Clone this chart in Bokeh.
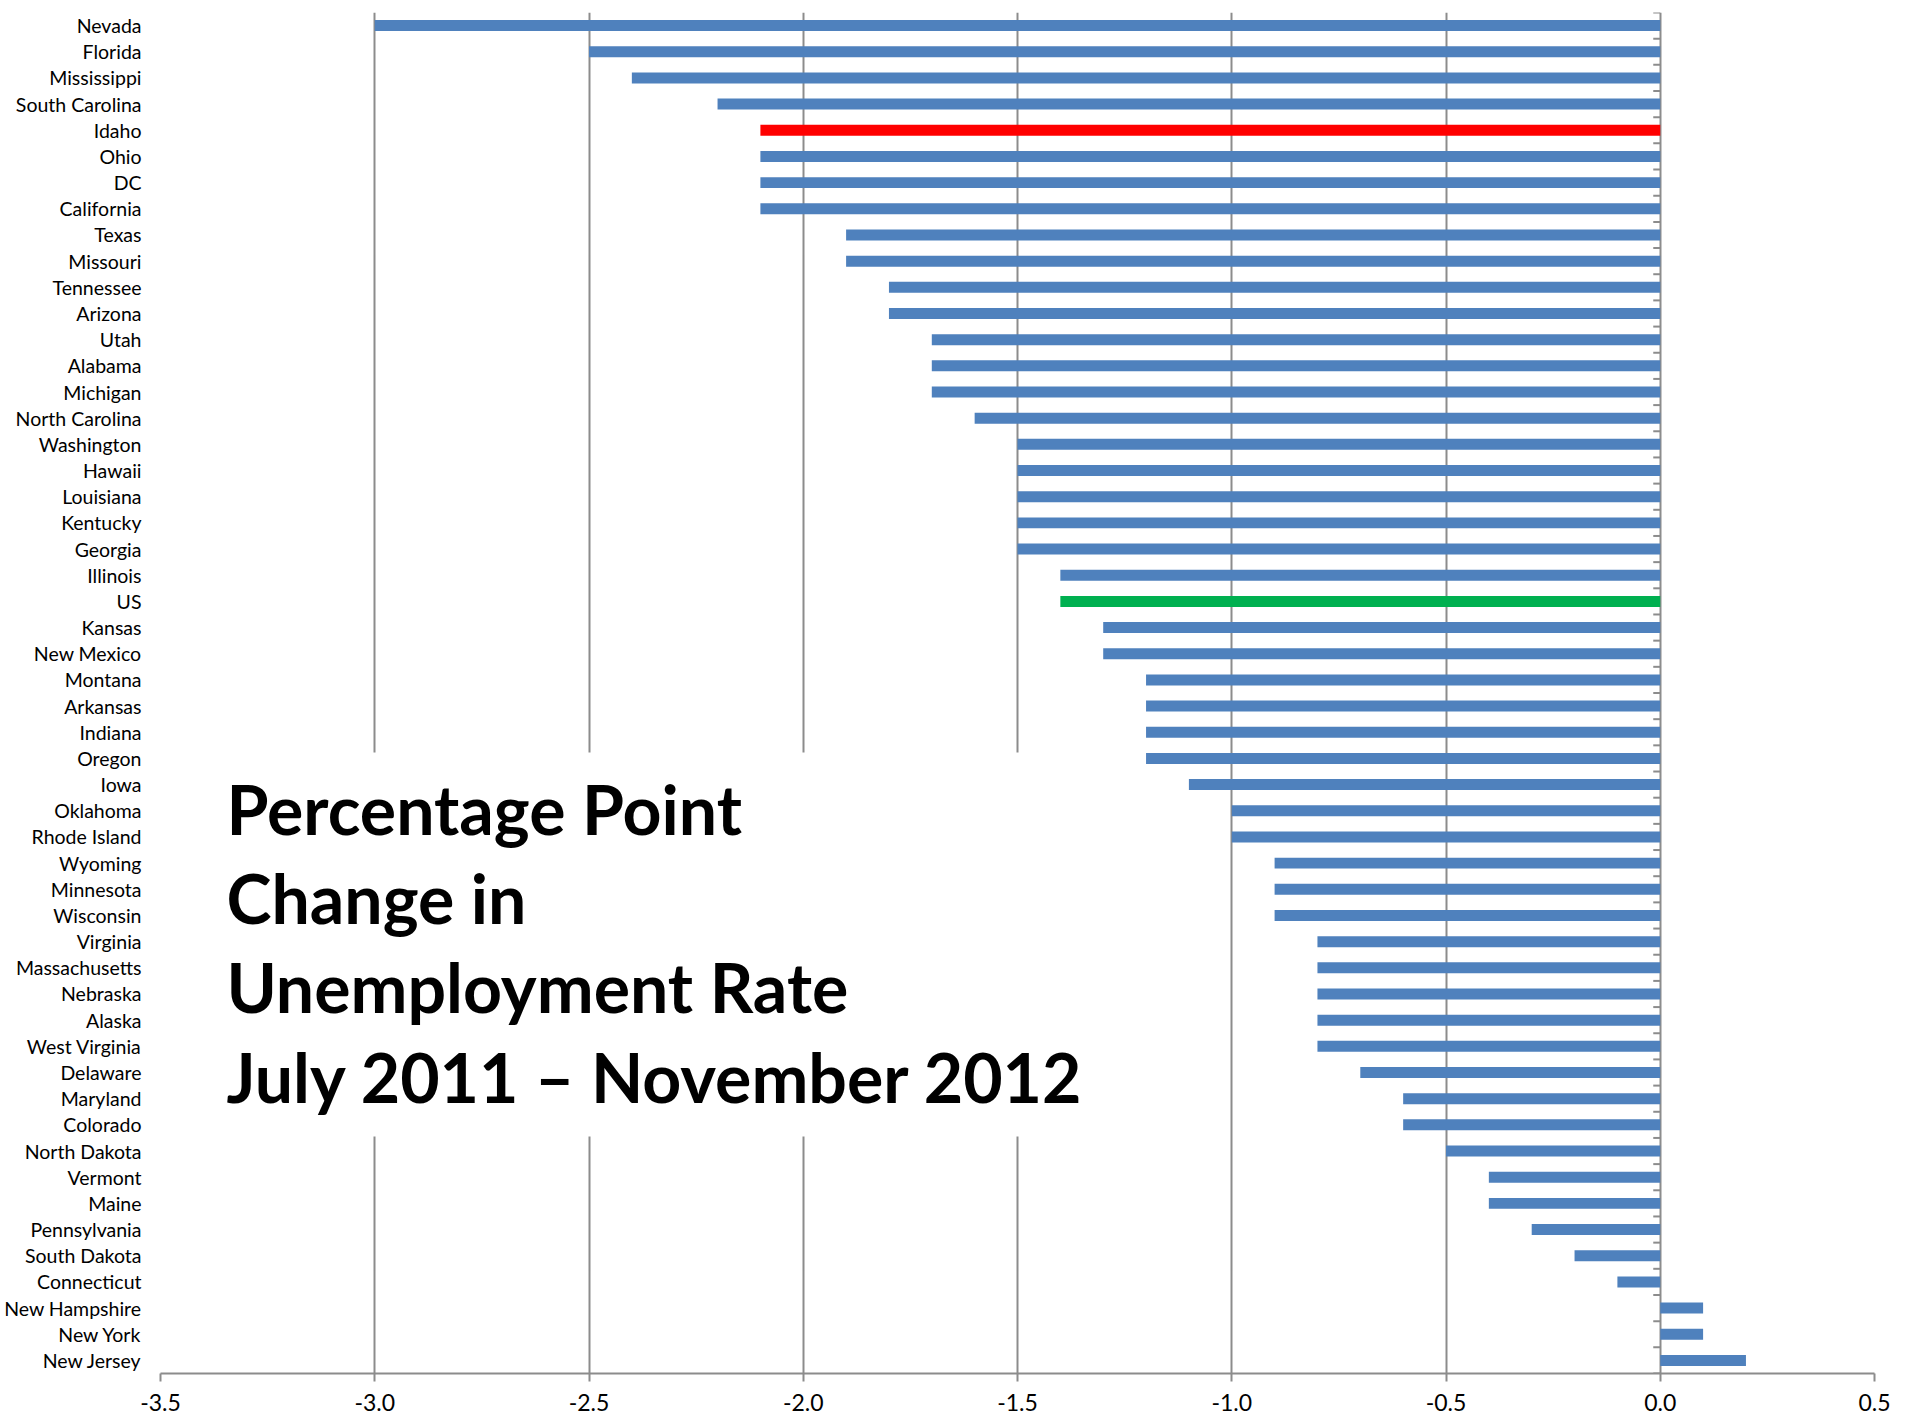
from bokeh.plotting import figure
from bokeh.models import (ColumnDataSource, Range1d, FixedTicker, NumeralTickFormatter,
                          Label, BoxAnnotation)
from bokeh.embed import file_html
from bokeh.resources import INLINE

states = ["Nevada", "Florida", "Mississippi", "South Carolina", "Idaho", "Ohio", "DC",
          "California", "Texas", "Missouri", "Tennessee", "Arizona", "Utah", "Alabama",
          "Michigan", "North Carolina", "Washington", "Hawaii", "Louisiana", "Kentucky",
          "Georgia", "Illinois", "US", "Kansas", "New Mexico", "Montana", "Arkansas",
          "Indiana", "Oregon", "Iowa", "Oklahoma", "Rhode Island", "Wyoming", "Minnesota",
          "Wisconsin", "Virginia", "Massachusetts", "Nebraska", "Alaska", "West Virginia",
          "Delaware", "Maryland", "Colorado", "North Dakota", "Vermont", "Maine",
          "Pennsylvania", "South Dakota", "Connecticut", "New Hampshire", "New York",
          "New Jersey"]
change = [-3.0, -2.5, -2.4, -2.2, -2.1, -2.1, -2.1,
          -2.1, -1.9, -1.9, -1.8, -1.8, -1.7, -1.7,
          -1.7, -1.6, -1.5, -1.5, -1.5, -1.5,
          -1.5, -1.4, -1.4, -1.3, -1.3, -1.2, -1.2,
          -1.2, -1.2, -1.1, -1.0, -1.0, -0.9, -0.9,
          -0.9, -0.8, -0.8, -0.8, -0.8, -0.8,
          -0.7, -0.6, -0.6, -0.5, -0.4, -0.4,
          -0.3, -0.2, -0.1, 0.1, 0.1,
          0.2]
x_ticks = [-3.5, -3.0, -2.5, -2.0, -1.5, -1.0, -0.5, 0.0, 0.5]
title_lines = ["Percentage Point", "Change in", "Unemployment Rate",
               "July 2011 \u2013 November 2012"]
highlight = {"Idaho": "#FF0000", "US": "#00B050"}
base_color = "#4F81BD"

FONT = "Lato"
GRID = "#8C8C8C"

n = len(states)
idx = list(range(n))
colors = [highlight.get(s, base_color) for s in states]
src = ColumnDataSource(dict(y=idx, v=change, c=colors, name=states))

FW, FH = 1714, 1361
x0, x1 = x_ticks[0], x_ticks[-1]
p = figure(frame_width=FW, frame_height=FH, output_backend="svg", toolbar_location=None,
           x_range=Range1d(x0, x1), y_range=Range1d(n - 0.5, -0.5),
           min_border_left=160, min_border_right=30, min_border_top=12, min_border_bottom=50)
p.outline_line_color = None
p.background_fill_color = "white"

# grid
p.xgrid.ticker = FixedTicker(ticks=x_ticks)
p.xgrid.grid_line_color = GRID
p.xgrid.grid_line_width = 2
p.ygrid.grid_line_color = None

# bars
p.hbar(y="y", left=0, right="v", height=0.42, fill_color="c", line_color=None, source=src)

# category boundary tick marks on the vertical axis at x = 0
px_per_unit = FW / (x1 - x0)
tick_len = 7 / px_per_unit
bounds = [i + 0.5 for i in range(-1, n)]
p.segment(x0=[0] * len(bounds), x1=[-tick_len] * len(bounds), y0=bounds, y1=bounds,
          line_color=GRID, line_width=2)

# x axis
xa = p.xaxis[0]
xa.ticker = FixedTicker(ticks=x_ticks)
xa.formatter = NumeralTickFormatter(format="0.0")
xa.axis_line_color = GRID
xa.axis_line_width = 2
xa.major_tick_line_color = GRID
xa.major_tick_line_width = 2
xa.major_tick_out = 8
xa.major_tick_in = 0
xa.minor_tick_line_color = None
xa.major_label_text_font = FONT
xa.major_label_text_font_size = "23px"
xa.major_label_text_color = "black"
xa.major_label_standoff = 12

# y axis (category labels)
ya = p.yaxis[0]
ya.ticker = FixedTicker(ticks=idx)
ya.major_label_overrides = {i: s for i, s in enumerate(states)}
ya.axis_line_color = None
ya.major_tick_line_color = None
ya.minor_tick_line_color = None
ya.major_tick_out = 0
ya.major_tick_in = 0
ya.major_label_standoff = 19
ya.major_label_text_font = FONT
ya.major_label_text_font_size = "19.5px"
ya.major_label_text_color = "black"

# title block (white box hides gridlines behind it)
def px_to_x(px):
    return x0 + px / px_per_unit

row_h = FH / n
def py_to_y(py):
    return py / row_h - 0.5

# positions in px relative to frame's top-left corner
box = BoxAnnotation(left=px_to_x(50), right=px_to_x(945),
                    top=py_to_y(740), bottom=py_to_y(1124),
                    fill_color="white", fill_alpha=1.0, line_color=None, level="overlay")
p.add_layout(box)

baselines = [796, 885, 974, 1064]
for line, b in zip(title_lines, baselines):
    p.add_layout(Label(x=px_to_x(66), y=py_to_y(b), text=line,
                       text_font=FONT, text_font_style="bold", text_font_size="68px",
                       text_color="black", text_baseline="alphabetic", text_align="left",
                       level="overlay"))

open("out.html", "w").write(file_html(p, INLINE))
